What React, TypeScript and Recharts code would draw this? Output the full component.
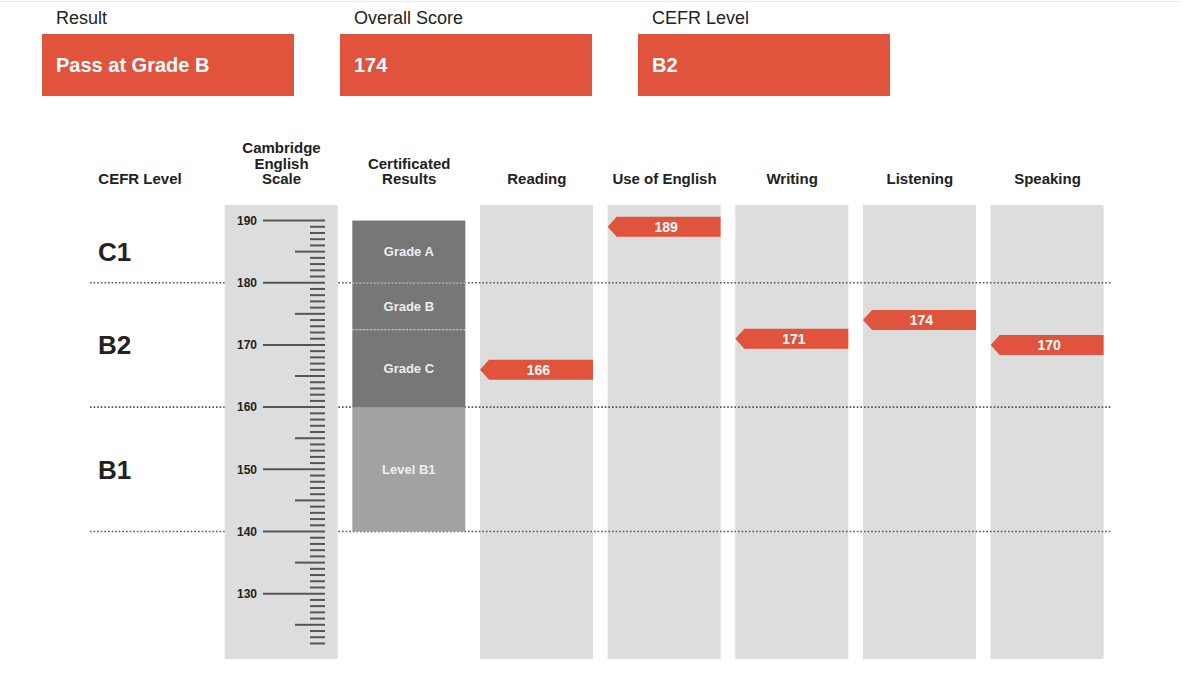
import {
  ComposedChart,
  Bar,
  XAxis,
  YAxis,
  ReferenceLine,
  ReferenceArea,
  LabelList,
} from 'recharts'

const FONT = "'Liberation Sans', Arial, sans-serif"
const RED = '#e0533d'
const PANEL = '#dddddd'
const DARK = '#777777'
const LIGHT = '#a2a2a2'
const INK = '#222222'

// summary boxes
const summaryTitles = ['Result', 'Overall Score', 'CEFR Level']
const summaryValues = ['Pass at Grade B', '174', 'B2']

// columns of the score chart
const columns = [
  'CEFR Level',
  'Cambridge English Scale',
  'Certificated Results',
  'Reading',
  'Use of English',
  'Writing',
  'Listening',
  'Speaking',
]
const columnHeaders = [
  ['CEFR Level'],
  ['Cambridge', 'English', 'Scale'],
  ['Certificated', 'Results'],
  ['Reading'],
  ['Use of English'],
  ['Writing'],
  ['Listening'],
  ['Speaking'],
]
const paperScores = [null, null, null, 166, 189, 171, 174, 170]

// Cambridge English Scale
const scaleDomain = [119.5, 192.5]
const scaleFirstTick = 122
const scaleLastTick = 190

// CEFR bands
const cefrLevels = ['C1', 'B2', 'B1']
const cefrFrom = [180, 160, 140]
const cefrTo = [190, 180, 160]
const levelLines = [180, 160, 140]

// certificated grades, bottom to top
const gradeNames = ['Level B1', 'Grade C', 'Grade B', 'Grade A']
const gradeBounds = [140, 160, 172.5, 180, 190]
const gradeColors = [LIGHT, DARK, DARK, DARK]

const CHART_W = 1200
const CHART_H = 675
const Y_AXIS_W = 1
const MARGIN = { top: 125, right: 88.7, left: 90 - Y_AXIS_W, bottom: 16 }
const BAR_W = 113
const BAND = (CHART_W - 90 - MARGIN.right) / columns.length
const SCALE_LEFT = 90 + BAND + (BAND - BAR_W) / 2
const HEADER_BASELINE = 184

const rulerTicks: number[] = []
for (let v = scaleFirstTick; v <= scaleLastTick; v++) rulerTicks.push(v)

const chartData = columns.map((name, i) => {
  const row: Record<string, unknown> = { name, score: paperScores[i] }
  if (i === 1) row.scalePanel = scaleDomain
  if (i >= 3) row.panel = scaleDomain
  if (i === 2) {
    row.base = gradeBounds[0]
    gradeNames.forEach((g, k) => {
      row['g' + k] = gradeBounds[k + 1] - gradeBounds[k]
      row['label' + k] = g
    })
  }
  if (paperScores[i] != null) row.mark = [paperScores[i], paperScores[i]]
  return row
})

function HeaderTick(props: any) {
  const { x, index } = props
  const lines = columnHeaders[index] ?? [props.payload.value]
  const left = index === 0
  const tx = left ? x - BAR_W / 2 + 1 : x
  return (
    <text
      x={tx}
      y={HEADER_BASELINE - (lines.length - 1) * 15.5}
      textAnchor={left ? 'start' : 'middle'}
      fontFamily={FONT}
      fontSize={15}
      fontWeight={700}
      fill={INK}
    >
      {lines.map((l: string, k: number) => (
        <tspan key={k} x={tx} dy={k === 0 ? 0 : 15.5}>
          {l}
        </tspan>
      ))}
    </text>
  )
}

function RulerTick(props: any) {
  const { y, payload } = props
  const v = payload.value
  const major = v % 10 === 0
  const mid = v % 5 === 0
  const x1 = major ? SCALE_LEFT + 38 : mid ? SCALE_LEFT + 70 : SCALE_LEFT + 85
  return (
    <g>
      <line x1={x1} x2={SCALE_LEFT + 100} y1={y} y2={y} stroke="#555" strokeWidth={2} />
      {major && (
        <text
          x={SCALE_LEFT + 32}
          y={y}
          dy="0.36em"
          textAnchor="end"
          fontFamily={FONT}
          fontSize={12}
          fontWeight={700}
          fill={INK}
        >
          {v}
        </text>
      )}
    </g>
  )
}

function GradeBlock(props: any) {
  const { x, width, fill, dotted } = props
  const top = Math.min(props.y, props.y + props.height)
  const h = Math.abs(props.height)
  if (!h) return null
  return (
    <g>
      <rect x={x} y={top} width={width} height={h} fill={fill} />
      {dotted && (
        <line
          x1={x}
          x2={x + width}
          y1={top}
          y2={top}
          stroke="#f2f2f2"
          strokeWidth={1.6}
          strokeDasharray="1.6 2"
        />
      )}
    </g>
  )
}

function ScoreArrow(props: any) {
  const { x, y, width, height, payload } = props
  if (payload == null || payload.score == null) return null
  const cy = y + height / 2
  const d = `M${x},${cy} L${x + 9},${cy - 10} L${x + width},${cy - 10} L${x + width},${cy + 10} L${x + 9},${cy + 10} Z`
  return (
    <g>
      <path d={d} fill={RED} />
      <text
        x={x + width / 2 + 2}
        y={cy}
        dy="0.36em"
        textAnchor="middle"
        fontFamily={FONT}
        fontSize={14}
        fontWeight={700}
        fill="#fff"
      >
        {payload.score}
      </text>
    </g>
  )
}

export default function App() {
  return (
    <div
      style={{
        position: 'absolute',
        left: 0,
        top: 0,
        width: CHART_W,
        height: CHART_H,
        background: '#fff',
        fontFamily: FONT,
        overflow: 'hidden',
      }}
    >
      <div
        style={{ position: 'absolute', left: 0, top: 1, width: 1180, height: 1, background: '#ececec' }}
      />
      {summaryTitles.map((t, i) => (
        <div key={t}>
          <div
            style={{
              position: 'absolute',
              left: 56 + i * 298,
              top: 8,
              fontSize: 18,
              color: INK,
            }}
          >
            {t}
          </div>
          <div
            style={{
              position: 'absolute',
              left: 42 + i * 298,
              top: 34,
              width: 252,
              height: 62,
              background: RED,
              color: '#fff',
              fontSize: 20,
              fontWeight: 700,
              lineHeight: '62px',
              paddingLeft: 14,
              boxSizing: 'border-box',
            }}
          >
            {summaryValues[i]}
          </div>
        </div>
      ))}
      <ComposedChart
        width={CHART_W}
        height={CHART_H}
        data={chartData}
        margin={MARGIN}
        style={{ position: 'absolute', left: 0, top: 0 }}
      >
        <XAxis
          xAxisId="head"
          dataKey="name"
          orientation="top"
          height={80}
          axisLine={false}
          tickLine={false}
          tickSize={0}
          interval={0}
          tick={<HeaderTick />}
        />
        <XAxis xAxisId="panels" dataKey="name" hide />
        <XAxis xAxisId="scale" dataKey="name" hide />
        <XAxis xAxisId="grades" dataKey="name" hide />
        <XAxis xAxisId="marks" dataKey="name" hide />
        <Bar
          xAxisId="panels"
          dataKey="panel"
          fill={PANEL}
          barSize={BAR_W}
          isAnimationActive={false}
          zIndex={250}
        />
        {levelLines.map((v) => (
          <ReferenceLine
            key={v}
            xAxisId="head"
            y={v}
            stroke="#555"
            strokeWidth={1.6}
            strokeDasharray="1.6 2"
            zIndex={300}
          />
        ))}
        {cefrLevels.map((c, i) => (
          <ReferenceArea
            key={c}
            xAxisId="head"
            x1="CEFR Level"
            x2="CEFR Level"
            y1={cefrFrom[i]}
            y2={cefrTo[i]}
            fill="#fff"
            fillOpacity={0}
            stroke="none"
            label={{
              value: c,
              position: 'insideLeft',
              offset: 8,
              fontSize: 26,
              fontWeight: 700,
              fill: INK,
              fontFamily: FONT,
            }}
          />
        ))}
        <Bar
          xAxisId="scale"
          dataKey="scalePanel"
          fill={PANEL}
          barSize={BAR_W}
          isAnimationActive={false}
          zIndex={450}
        />
        <Bar
          xAxisId="grades"
          dataKey="base"
          stackId="grades"
          fill="transparent"
          barSize={BAR_W}
          isAnimationActive={false}
          zIndex={450}
        />
        {gradeNames.map((g, k) => (
          <Bar
            key={g}
            xAxisId="grades"
            dataKey={'g' + k}
            stackId="grades"
            fill={gradeColors[k]}
            barSize={BAR_W}
            isAnimationActive={false}
            zIndex={450}
            shape={(p: any) => <GradeBlock {...p} fill={gradeColors[k]} dotted={k === 1 || k === 2} />}
          >
            <LabelList
              dataKey={'label' + k}
              position="center"
              fill="#eeeeee"
              fontSize={13}
              fontWeight={700}
              fontFamily={FONT}
            />
          </Bar>
        ))}
        <Bar
          xAxisId="marks"
          dataKey="mark"
          barSize={BAR_W}
          isAnimationActive={false}
          zIndex={460}
          shape={(p: any) => <ScoreArrow {...p} />}
        />
        <YAxis
          type="number"
          domain={scaleDomain}
          allowDataOverflow
          ticks={rulerTicks}
          interval={0}
          width={Y_AXIS_W}
          axisLine={false}
          tickLine={false}
          tick={<RulerTick />}
          zIndex={500}
        />
      </ComposedChart>
    </div>
  )
}
